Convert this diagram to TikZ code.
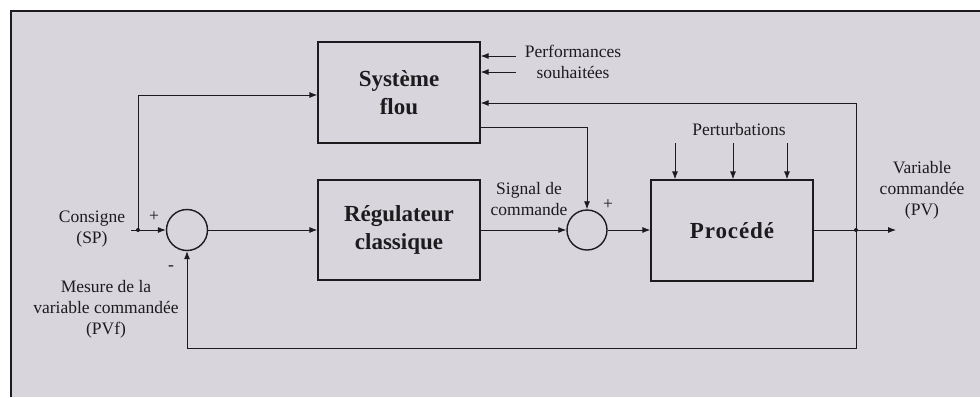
\documentclass[tikz,border=0pt]{standalone}
\usepackage{fontspec}
\setmainfont{Liberation Serif}
\usetikzlibrary{arrows.meta}
\definecolor{bgc}{RGB}{216,214,220}
\definecolor{ink}{RGB}{28,28,30}
\tikzset{
  blk/.style={draw=ink, line width=1.3pt, minimum width=162pt, minimum height=101pt, inner sep=0pt, align=center, font=\fontsize{23}{28}\selectfont\bfseries, text=ink},
  sumc/.style={draw=ink, line width=1.4pt, circle, minimum size=41pt, inner sep=0pt},
  arr/.style={draw=ink, line width=0.85pt, -{Latex[length=8pt,width=6pt]}},
  lbl/.style={font=\fontsize{17.5}{21}\selectfont, text=ink, align=center, inner sep=0pt},
  dotc/.style={circle, fill=ink, inner sep=0pt, minimum size=4pt}
}
\begin{document}
\begin{tikzpicture}[x=1pt,y=-1pt]
\useasboundingbox (0,0) rectangle (980,397);
\fill[white] (0,0) rectangle (980,397);
\fill[bgc] (11,11) rectangle (980,397);
\draw[ink, line width=2pt] (11,397) -- (11,11) -- (980,11);

% blocks
\node[blk] (flou) at (399,92.5) {Système\\flou};
\node[blk, minimum height=100pt] (reg) at (399,230) {Régulateur\\classique};
\node[blk] (proc) at (732,230.5) {\addfontfeatures{LetterSpace=4}Procédé};
\node[sumc] (s1) at (187,230) {};
\node[sumc, minimum size=40pt] (s2) at (587,230) {};

% coordinates
\coordinate (sp) at (131,230);
\node[dotc] (d1) at (138,230) {};
\node[dotc] (d2) at (856,230) {};
\coordinate (out) at (896,230);
\coordinate (fbr) at (856,348);
\coordinate (perfa) at (516,56);
\coordinate (perfb) at (516,72);
\coordinate (pa) at (675,143);
\coordinate (pb) at (733,143);
\coordinate (pc) at (787,143);

% connectors
\draw[arr] (sp) -- (s1.west);
\draw[arr] (d1.center) |- ([yshift=-2.5pt]flou.west);
\draw[arr] (s1.east) -- (reg.west);
\draw[arr] (reg.east) -- (s2.west);
\draw[arr] (s2.east) -- (s2.east -| proc.west);
\draw[arr] (proc.east |- d2) -- (out);
\draw[arr] (d2.center) -- (fbr) -| (s1.south);
\draw[arr] (d2.center) |- ([yshift=-10.5pt]flou.east);
\draw[arr] ([yshift=-34.5pt]flou.east) -| (s2.north);
\draw[arr] (perfa) -- (perfa -| flou.east);
\draw[arr] (perfb) -- (perfb -| flou.east);
\draw[arr] (pa) -- (pa |- proc.north);
\draw[arr] (pb) -- (pb |- proc.north);
\draw[arr] (pc) -- (pc |- proc.north);

% labels
\node[lbl] (perf) at (573,62) {Performances\\souhaitées};
\node[lbl] (pert) at (739,130) {Perturbations};
\node[lbl] (sig) at (529,199) {Signal de\\commande};
\node[lbl] (cons) at (92,229) {Consigne\\(SP)};
\node[lbl] (plus1) at (154,217) {+};
\node[lbl] (minus1) at (171,268) {-};
\node[lbl] (plus2) at (608,205) {+};
\node[lbl] (mes) at (106,309) {Mesure de la\\variable commandée\\(PVf)};
\node[lbl] (pv) at (922,190) {Variable\\commandée\\(PV)};
\end{tikzpicture}
\end{document}
